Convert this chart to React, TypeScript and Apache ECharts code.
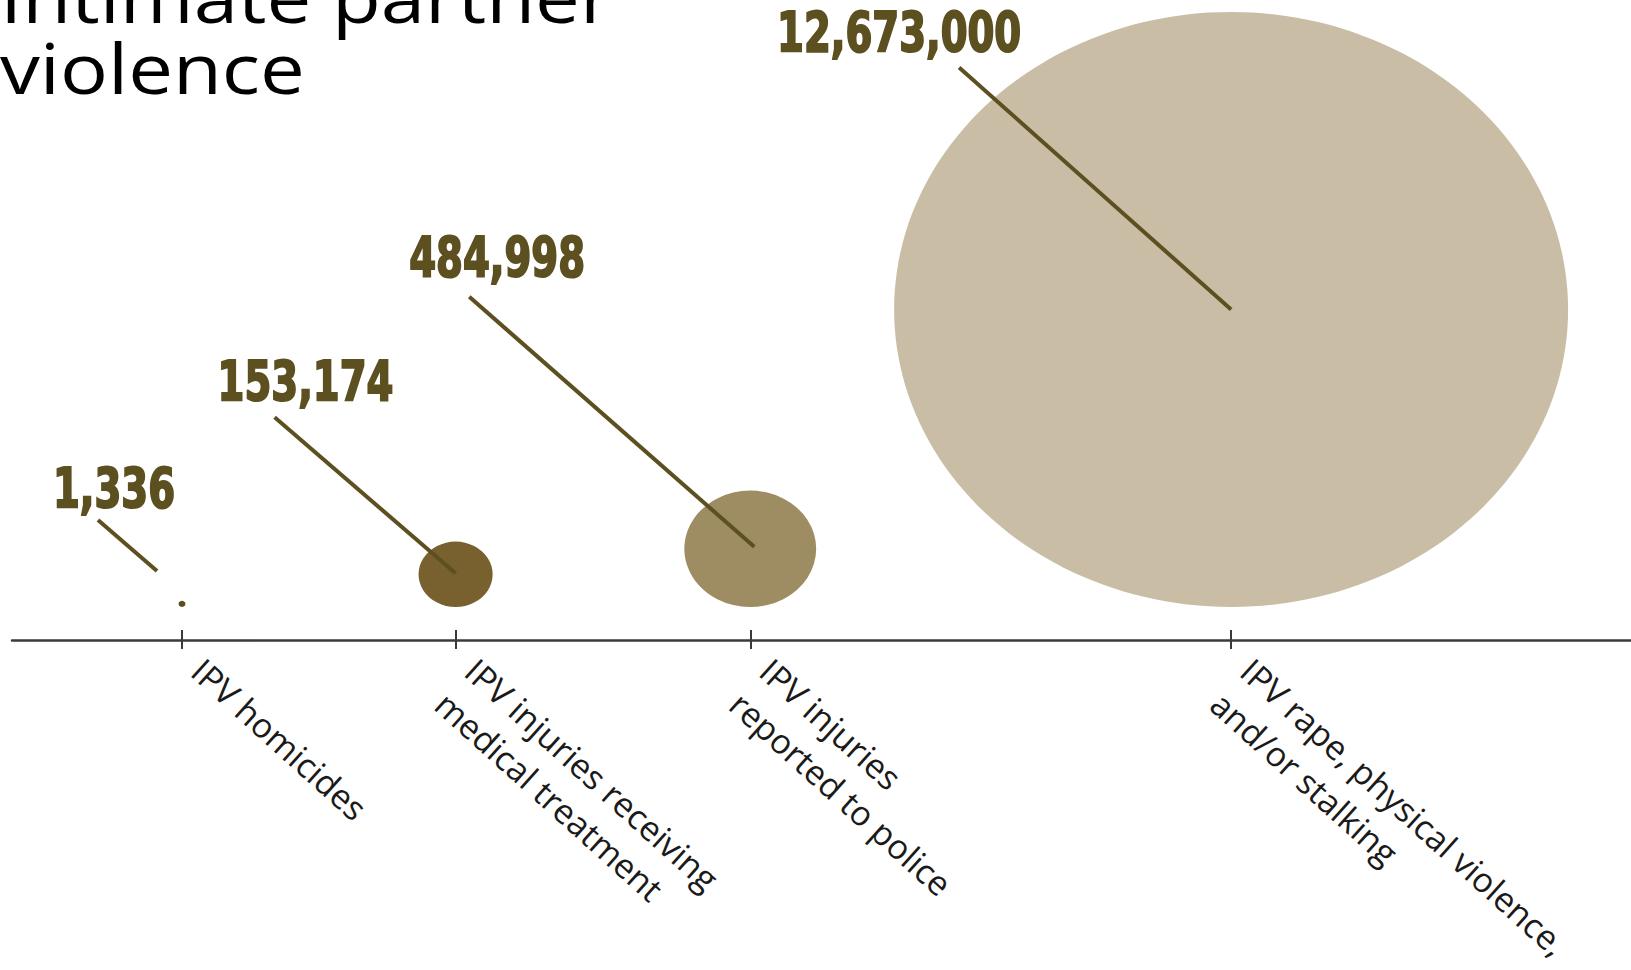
import React, { useEffect, useRef } from "react";
import * as echarts from "echarts";

// ---- data ----
const categories: string[] = [
  "IPV homicides",
  "IPV injuries receiving\nmedical treatment",
  "IPV injuries\nreported to police",
  "IPV rape, physical violence,\nand/or stalking",
];
const values: number[] = [1336, 153174, 484998, 12673000];
const categoryX: number[] = [10.5, 27.4, 45.6, 75.3];
const titleLines: string[] = ["Intimate partner", "violence"];

// ---- layout / style ----
const MAX_W = 674;
const MAX_H = 595;
const maxVal = Math.max(...values);
const bubbleColors = ["#5c4d1f", "#78612f", "#9e8d62", "#c9bea5"];
const labelColor = "#5d5020";
// leader line [startDx, startDy, endDx, endDy] relative to bubble centre
const leaderLines = [
  [-84, -84, -25, -33],
  [-181, -157, 0, -1],
  [-281, -252, 4, -2],
  [-272, -242, 0, 0],
];
// value label [left, middle] relative to bubble centre
const labelOffsets = [
  [-129, -116],
  [-238, -193],
  [-341, -292],
  [-454, -277],
];

const sizeOf = (v: number) => {
  const k = Math.sqrt(v / maxVal);
  return [MAX_W * k, MAX_H * k];
};

export default function App() {
  const ref = useRef<HTMLDivElement>(null);
  useEffect(() => {
    if (!ref.current) return;
    const chart = echarts.init(ref.current, null, { renderer: "svg" });

    const scatterData = values.map((v, i) => {
      const [w, h] = sizeOf(v);
      return {
        value: [categoryX[i], 0],
        symbolSize: [w, h],
        symbolOffset: [0, -h / 2],
        itemStyle: { color: bubbleColors[i], opacity: 1 },
      };
    });

    const axisBase = {
      type: "value",
      min: 0,
      max: 100,
      position: "bottom",
      offset: 33,
      splitLine: { show: false },
    };

    chart.setOption({
      animation: false,
      backgroundColor: "#ffffff",
      grid: {
        left: 12,
        right: 0,
        top: 0,
        bottom: 363,
        containLabel: false,
        outerBoundsMode: "none",
      },
      xAxis: [
        {
          ...axisBase,
          axisLine: {
            show: true,
            onZero: false,
            lineStyle: { color: "#3a3a3a", width: 2.5 },
          },
          axisTick: {
            show: true,
            length: 9,
            customValues: categoryX,
            lineStyle: { color: "#3a3a3a", width: 2 },
          },
          axisLabel: {
            show: true,
            customValues: categoryX,
            rotate: -42,
            align: "left",
            verticalAlign: "top",
            margin: -19,
            padding: [0, 0, 0, 41],
            fontFamily: "'Open Sans', 'Noto Sans', sans-serif",
            fontSize: 34,
            lineHeight: 45,
            color: "#1a1a1a",
            formatter: (val: number) => {
              const idx = categoryX.indexOf(val);
              return idx >= 0 ? categories[idx] : "";
            },
          },
        },
        {
          ...axisBase,
          axisLine: { show: false, onZero: false },
          axisTick: {
            show: true,
            inside: true,
            length: 10,
            customValues: categoryX,
            lineStyle: { color: "#3a3a3a", width: 2 },
          },
          axisLabel: { show: false },
        },
      ],
      yAxis: { type: "value", min: 0, max: 100, show: false },
      series: [
        {
          type: "scatter",
          xAxisIndex: 0,
          symbol: "circle",
          data: scatterData,
          z: 2,
        },
        {
          type: "custom",
          xAxisIndex: 0,
          z: 5,
          data: values.map((v, i) => [categoryX[i], 0, v]),
          renderItem: (params: any, api: any) => {
            const i = params.dataIndex;
            const v = api.value(2);
            const [, h] = sizeOf(v);
            const p = api.coord([api.value(0), 0]);
            const cx = p[0];
            const cy = p[1] - h / 2;
            const L = leaderLines[i];
            const T = labelOffsets[i];
            return {
              type: "group",
              children: [
                {
                  type: "line",
                  shape: { x1: cx + L[0], y1: cy + L[1], x2: cx + L[2], y2: cy + L[3] },
                  style: { stroke: labelColor, lineWidth: 4 },
                },
                {
                  type: "text",
                  x: cx + T[0],
                  y: cy + T[1],
                  scaleX: 0.78,
                  style: {
                    text: v.toLocaleString("en-US"),
                    fill: labelColor,
                    stroke: labelColor,
                    lineWidth: 2,
                    font: "bold 55px 'DejaVu Sans Condensed', 'DejaVu Sans', sans-serif",
                    textAlign: "left",
                    textVerticalAlign: "middle",
                  },
                },
              ],
            };
          },
        },
      ],
      graphic: [
        {
          type: "text",
          x: 0,
          y: -40,
          scaleX: 1.14,
          style: {
            text: titleLines.join("\n"),
            fill: "#000000",
            font: "70px 'Open Sans', 'Noto Sans', sans-serif",
            lineHeight: 71,
            textAlign: "left",
            textVerticalAlign: "top",
          },
        },
      ],
    });
    return () => chart.dispose();
  }, []);
  return (
    <div
      ref={ref}
      style={{ position: "fixed", left: 0, top: 0, width: 1631, height: 970 }}
    />
  );
}
